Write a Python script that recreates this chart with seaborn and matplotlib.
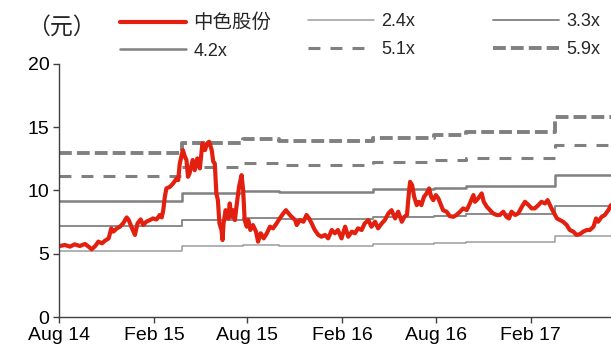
import matplotlib
matplotlib.use("Agg")
import matplotlib.pyplot as plt
import matplotlib.dates as mdates
from matplotlib.lines import Line2D
import seaborn as sns
import pandas as pd

# ---------------- data ----------------
price_dates = [
    "2014-08-02", "2014-08-12", "2014-08-22", "2014-08-31", "2014-09-10", "2014-09-20", "2014-09-27",
    "2014-10-03", "2014-10-10", "2014-10-16", "2014-10-23", "2014-10-29", "2014-11-05", "2014-11-10",
    "2014-11-14", "2014-11-21", "2014-11-27", "2014-12-03", "2014-12-10", "2014-12-14", "2014-12-19",
    "2014-12-26", "2014-12-31",
    "2015-01-06", "2015-01-11", "2015-01-17", "2015-01-24", "2015-01-30", "2015-02-06", "2015-02-12",
    "2015-02-16", "2015-02-19", "2015-02-22", "2015-02-25", "2015-03-04", "2015-03-10", "2015-03-17",
    "2015-03-20", "2015-03-23", "2015-03-26", "2015-03-29", "2015-04-02", "2015-04-05", "2015-04-08",
    "2015-04-11", "2015-04-17", "2015-04-21", "2015-04-26", "2015-05-01", "2015-05-06", "2015-05-11",
    "2015-05-15", "2015-05-19", "2015-05-24", "2015-05-27", "2015-05-30", "2015-06-02", "2015-06-05",
    "2015-06-08", "2015-06-12", "2015-06-14", "2015-06-16", "2015-06-20", "2015-06-25", "2015-06-28",
    "2015-07-01", "2015-07-04", "2015-07-08", "2015-07-11", "2015-07-16", "2015-07-21", "2015-07-24",
    "2015-07-27", "2015-07-31", "2015-08-03", "2015-08-07", "2015-08-12", "2015-08-18", "2015-08-22",
    "2015-08-27", "2015-09-02", "2015-09-08", "2015-09-14", "2015-09-20", "2015-09-27", "2015-10-03",
    "2015-10-10", "2015-10-15", "2015-10-20", "2015-10-26", "2015-11-02", "2015-11-05", "2015-11-11",
    "2015-11-18", "2015-11-24", "2015-11-29", "2015-12-04", "2015-12-10", "2015-12-17", "2015-12-23",
    "2015-12-30",
    "2016-01-05", "2016-01-12", "2016-01-18", "2016-01-24", "2016-01-31", "2016-02-07", "2016-02-13",
    "2016-02-20", "2016-02-26", "2016-03-03", "2016-03-10", "2016-03-16", "2016-03-23", "2016-03-29",
    "2016-04-05", "2016-04-11", "2016-04-18", "2016-04-24", "2016-05-01", "2016-05-07", "2016-05-14",
    "2016-05-20", "2016-05-27", "2016-06-01", "2016-06-06", "2016-06-09", "2016-06-12", "2016-06-16",
    "2016-06-20", "2016-06-25", "2016-06-29", "2016-07-04", "2016-07-09", "2016-07-14", "2016-07-19",
    "2016-07-23", "2016-07-27", "2016-08-01", "2016-08-06", "2016-08-11", "2016-08-15", "2016-08-22",
    "2016-08-28", "2016-09-04", "2016-09-10", "2016-09-17", "2016-09-23", "2016-09-30", "2016-10-06",
    "2016-10-13", "2016-10-16", "2016-10-22", "2016-10-29", "2016-11-02", "2016-11-08", "2016-11-14",
    "2016-11-20", "2016-11-27", "2016-12-03", "2016-12-10", "2016-12-16", "2016-12-21", "2016-12-26",
    "2017-01-02", "2017-01-08", "2017-01-15", "2017-01-21", "2017-01-28", "2017-02-03", "2017-02-09",
    "2017-02-16", "2017-02-22", "2017-03-01", "2017-03-06", "2017-03-12", "2017-03-17", "2017-03-24",
    "2017-03-30", "2017-04-05", "2017-04-12", "2017-04-18", "2017-04-25", "2017-05-01", "2017-05-08",
    "2017-05-14", "2017-05-21", "2017-05-27", "2017-06-03", "2017-06-08", "2017-06-12", "2017-06-19",
    "2017-06-25", "2017-07-02", "2017-07-07",
]
price_values = [
    5.63, 5.71, 5.58, 5.76, 5.63, 5.79, 5.58,
    5.37, 5.63, 5.97, 5.84, 6.05, 6.23, 7.02,
    6.76, 7.02, 7.15, 7.41, 7.88, 7.67, 7.15,
    6.50, 7.41,
    7.72, 7.28, 7.54, 7.67, 7.80, 7.72, 8.07,
    7.88, 8.45, 9.50, 10.16, 10.29, 10.55, 10.95,
    10.82, 12.13, 12.66, 13.18, 12.66, 12.40, 11.08,
    11.35, 12.40, 11.60, 12.53, 11.74, 13.71, 13.18,
    13.71, 13.84, 13.18, 12.27, 12.13, 9.77, 9.24,
    7.41, 6.89, 6.10, 7.41, 8.45, 7.80, 8.98,
    7.93, 8.45, 7.67, 8.72, 10.29, 11.21, 10.03,
    7.67, 7.15, 7.67, 6.89, 7.28, 6.76, 5.97,
    6.63, 6.23, 6.63, 7.15, 7.02, 7.41, 7.80,
    8.20, 8.45, 8.20, 7.93, 7.67, 7.28, 7.67,
    7.54, 8.07, 7.80, 7.41, 6.89, 6.50, 6.36,
    6.50,
    6.23, 6.89, 6.63, 6.89, 6.23, 7.15, 6.36,
    6.76, 6.63, 7.02, 6.89, 7.41, 7.67, 7.15,
    7.54, 7.02, 7.41, 7.67, 8.20, 8.45, 7.80,
    8.33, 7.54, 7.93, 8.07, 9.50, 10.68, 10.42,
    9.50, 8.85, 9.11, 8.85, 9.50, 9.77, 10.16,
    9.50, 9.24, 9.64, 9.37, 8.85, 8.45, 8.33,
    7.98, 7.93, 8.07, 8.33, 8.59, 8.46, 8.98,
    9.64, 9.11, 9.37, 9.77, 9.11, 8.72, 8.46,
    8.20, 8.07, 8.07, 8.33, 7.93, 7.80, 8.33,
    8.07, 8.20, 8.72, 9.11, 8.85, 8.59, 8.59,
    8.85, 9.11, 8.98, 9.24, 8.72, 8.33, 7.80,
    7.67, 7.54, 7.28, 6.89, 6.76, 6.50, 6.57,
    6.76, 6.89, 6.89, 7.15, 7.80, 7.54, 7.93,
    8.07, 8.46, 8.85,
]

# book value per share (step levels) and the PB multiples of the bands
bvps_dates = ["2014-08-01", "2015-03-27", "2015-07-23", "2015-10-01",
              "2016-04-01", "2016-07-29", "2016-09-28", "2017-03-20", "2017-07-10"]
bvps_values = [2.19, 2.33, 2.38, 2.36, 2.40, 2.43, 2.47, 2.67, 2.67]
multiples = [2.4, 3.3, 4.2, 5.1, 5.9]
band_labels = ["2.4x", "3.3x", "4.2x", "5.1x", "5.9x"]
price_label = "中色股份"

y_ticks = [0, 5, 10, 15, 20]
x_tick_dates = ["2014-08-01", "2015-02-01", "2015-08-01", "2016-02-01", "2016-08-01", "2017-02-01"]

# ---------------- style ----------------
sns.set_style("ticks")
plt.rcParams["font.family"] = ["Liberation Sans", "Noto Sans CJK SC", "DejaVu Sans"]

fig = plt.figure(figsize=(6.11, 3.53), dpi=100)
ax = fig.add_axes([0.0969, 0.1006, 0.9031, 0.7195])

band_styles = [
    dict(color="#9c9c9c", lw=1.1, dashes=None),
    dict(color="#8a8a8a", lw=1.4, dashes=None),
    dict(color="#808080", lw=1.8, dashes=None),
    dict(color="#808080", lw=2.2, dashes=(3.9, 3.3)),
    dict(color="#808080", lw=2.8, dashes=(3.3, 1.3)),
]

bv = pd.DataFrame({"date": pd.to_datetime(bvps_dates), "bvps": bvps_values})
handles = {}
for m, lab, st in zip(multiples, band_labels, band_styles):
    df = pd.DataFrame({"date": bv["date"], "value": bv["bvps"] * m})
    sns.lineplot(data=df, x="date", y="value", ax=ax, color=st["color"], lw=st["lw"],
                 drawstyle="steps-post", estimator=None, errorbar=None, legend=False)
    ln = ax.lines[-1]
    if st["dashes"] is not None:
        ln.set_dashes(st["dashes"])
        ln.set_dash_capstyle("butt")
    handles[lab] = Line2D([], [], color=st["color"], lw=st["lw"],
                          dashes=st["dashes"] if st["dashes"] else (None, None),
                          dash_capstyle="butt")

pdf = pd.DataFrame({"date": pd.to_datetime(price_dates), "value": price_values})
sns.lineplot(data=pdf, x="date", y="value", ax=ax, color="#e3200f", lw=3.0,
             estimator=None, errorbar=None, legend=False)
handles[price_label] = Line2D([], [], color="#e3200f", lw=3.0)

# ---------------- axes ----------------
ax.set_ylim(0, 20)
ax.set_yticks(y_ticks)
ax.set_xlim(pd.Timestamp("2014-08-01"), pd.Timestamp("2017-07-07"))
ax.set_xticks(pd.to_datetime(x_tick_dates))
ax.xaxis.set_major_formatter(mdates.DateFormatter("%b %y"))
ax.set_xlabel("")
ax.set_ylabel("")
for s in ["top", "right"]:
    ax.spines[s].set_visible(False)
for s in ["left", "bottom"]:
    ax.spines[s].set_color("#404040")
    ax.spines[s].set_linewidth(1.0)
ax.tick_params(axis="both", direction="out", length=4, width=1, color="#404040",
               labelsize=14, labelcolor="black", pad=3)

fig.text(0.101, 0.9235, "（元）", ha="center", va="center", fontsize=16.5,
         family=["Noto Sans CJK SC", "DejaVu Sans"])

# legend: three columns placed at fixed positions
cols = [[price_label, "4.2x"], ["2.4x", "5.1x"], ["3.3x", "5.9x"]]
col_x = [0.191, 0.498, 0.801]
for names, x0 in zip(cols, col_x):
    leg = fig.legend([handles[n] for n in names], names, loc="upper left",
                     bbox_to_anchor=(x0, 0.972), frameon=False, fontsize=13,
                     handlelength=3.65, handletextpad=0.4, labelspacing=0.58,
                     borderaxespad=0, borderpad=0.2)
    for t in leg.get_texts():
        if t.get_text() == price_label:
            t.set_fontsize(14)

fig.savefig("out.png", dpi=100)
